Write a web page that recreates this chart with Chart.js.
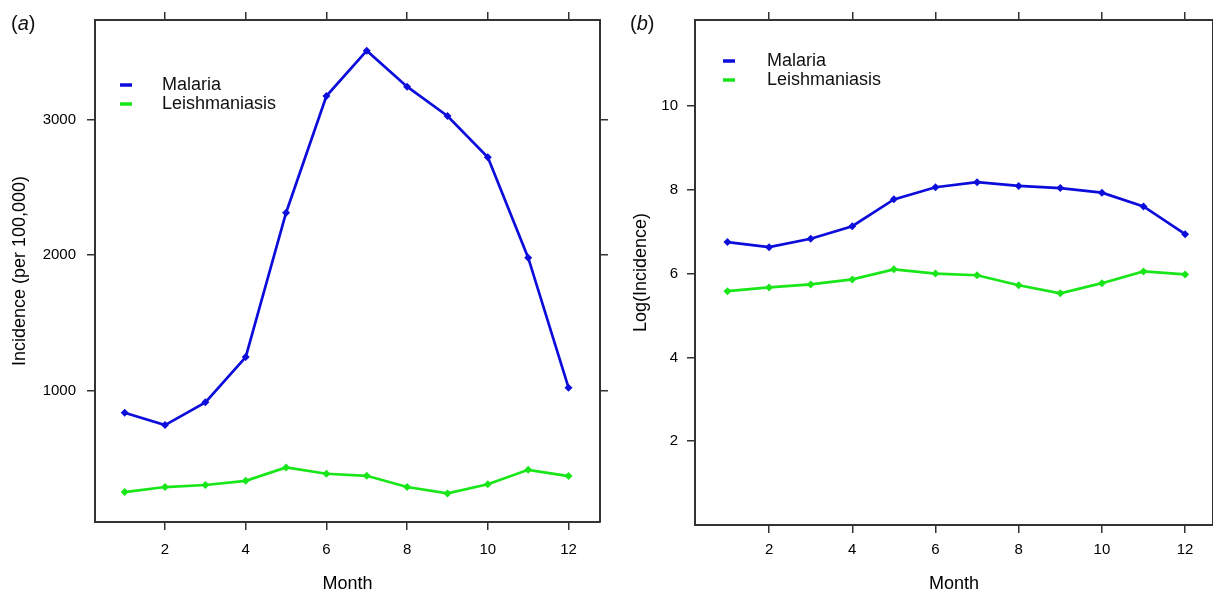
<!DOCTYPE html>
<html>
<head>
<meta charset="utf-8">
<script src="https://cdn.jsdelivr.net/npm/chart.js@4.4.0/dist/chart.umd.min.js"></script>
<style>
  body { margin: 0; background: #fff; width: 1213px; height: 591px; overflow: hidden; position: relative;
         font-family: "Liberation Sans", Arial, sans-serif; }
  .panel { position: absolute; top: 0; height: 591px; }
  #pa { left: 0; width: 610px; }
  #pb { left: 620px; width: 597px; }
  .tag { position: absolute; top: 12px; font-size: 20px; color: #111; }
</style>
</head>
<body>
<div class="panel" id="pa"><canvas id="chartA"></canvas></div>
<div class="panel" id="pb"><canvas id="chartB"></canvas></div>
<div class="tag" style="left:11px">(<i>a</i>)</div>
<div class="tag" style="left:630px">(<i>b</i>)</div>
<script>
// values
const months = [1, 2, 3, 4, 5, 6, 7, 8, 9, 10, 11, 12];
const malariaInc = [836, 745, 913, 1247, 2312, 3173, 3508, 3242, 3026, 2721, 1980, 1021];
const leishInc = [251, 288, 303, 334, 433, 386, 371, 288, 241, 308, 415, 369];
const malariaLog = [6.75, 6.63, 6.83, 7.13, 7.77, 8.06, 8.18, 8.09, 8.04, 7.93, 7.60, 6.94];
const leishLog = [5.58, 5.67, 5.74, 5.86, 6.10, 6.00, 5.96, 5.72, 5.53, 5.77, 6.05, 5.98];
const monthTicks = [2, 4, 6, 8, 10, 12];
const incTicks = [1000, 2000, 3000];
const logTicks = [2, 4, 6, 8, 10];

const blue = '#0d0ddb';
const green = '#19e619';
const axisCol = '#333';

Chart.defaults.font.family = '"Liberation Sans", Arial, sans-serif';

// legend drawn inside the plot box, like R's legend()
const insideLegend = {
  id: 'insideLegend',
  afterDraw(chart, args, opts) {
    const { ctx, chartArea } = chart;
    ctx.save();
    ctx.font = '18px "Liberation Sans", Arial, sans-serif';
    ctx.textBaseline = 'middle';
    chart.data.datasets.forEach((ds, i) => {
      const y = chartArea.top + opts.dy + i * opts.gap;
      ctx.fillStyle = ds.borderColor;
      ctx.fillRect(chartArea.left + opts.dx, y - 1.75, 12, 3.5);
      ctx.fillStyle = '#111';
      ctx.fillText(ds.label, chartArea.left + opts.tx, y);
    });
    ctx.restore();
  }
};

function axis(pos, min, max, tickVals, size, labels, title, pad, titlePad) {
  return {
    type: 'linear',
    position: pos,
    min: min,
    max: max,
    afterBuildTicks: s => { s.ticks = tickVals.map(v => ({ value: v })); },
    afterFit: s => {
      if (pos === 'top' || pos === 'bottom') s.height = size; else s.width = size;
    },
    grid: { drawOnChartArea: false, drawTicks: true, tickLength: 8, color: axisCol, lineWidth: 1.5 },
    border: { display: true, color: axisCol, width: 2 },
    ticks: {
      display: labels,
      autoSkip: false,
      maxRotation: 0,
      padding: pad || 0,
      color: '#000',
      font: { size: 15 },
      callback: v => String(v)
    },
    title: {
      display: !!title,
      text: title || '',
      color: '#000',
      font: { size: 18, lineHeight: 1 },
      padding: { top: titlePad || 0, bottom: -2 }
    }
  };
}

function line(label, data, color) {
  return {
    label: label,
    data: months.map((m, i) => ({ x: m, y: data[i] })),
    borderColor: color,
    backgroundColor: color,
    pointBackgroundColor: color,
    pointBorderColor: color,
    pointStyle: 'rectRot',
    pointRadius: 4,
    pointBorderWidth: 0,
    borderWidth: 2.7,
    tension: 0
  };
}

function crearPanel(id, dsA, dsB, cfg) {
  new Chart(document.getElementById(id), {
    type: 'line',
    data: { datasets: [dsA, dsB] },
    options: {
      responsive: true,
      maintainAspectRatio: false,
      animation: false,
      layout: { padding: 0 },
      plugins: {
        legend: { display: false },
        tooltip: { enabled: false },
        insideLegend: cfg.legend
      },
      scales: {
        x: axis('bottom', cfg.xmin, cfg.xmax, monthTicks, cfg.bottom, true, 'Month', cfg.xpad),
        x2: axis('top', cfg.xmin, cfg.xmax, monthTicks, 20, false),
        y: axis('left', cfg.ymin, cfg.ymax, cfg.yticks, cfg.left, true, cfg.ytitle, cfg.ypad, cfg.titlePad),
        y2: axis('right', cfg.ymin, cfg.ymax, cfg.yticks, cfg.right, false)
      }
    },
    plugins: [insideLegend]
  });
}

crearPanel('chartA',
  line('Malaria', malariaInc, blue),
  line('Leishmaniasis', leishInc, green),
  {
    xmin: 0.265, xmax: 12.78, ymin: 30, ymax: 3734,
    yticks: incTicks, ytitle: 'Incidence (per 100,000)',
    left: 95, right: 10, bottom: 69, xpad: 11, ypad: 11, titlePad: 11,
    legend: { dx: 25, tx: 67, dy: 65, gap: 19 }
  });

crearPanel('chartB',
  line('Malaria', malariaLog, blue),
  line('Leishmaniasis', leishLog, green),
  {
    xmin: 0.22, xmax: 12.67, ymin: 0, ymax: 12.05,
    yticks: logTicks, ytitle: 'Log(Incidence)',
    left: 75, right: 1, bottom: 66, xpad: 8, ypad: 9, titlePad: 12,
    legend: { dx: 28, tx: 72, dy: 41, gap: 19 }
  });
</script>
</body>
</html>
